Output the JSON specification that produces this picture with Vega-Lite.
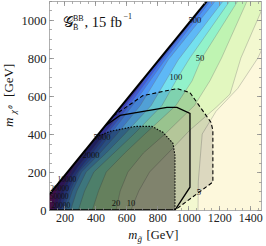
{
  "$schema": "https://vega.github.io/schema/vega-lite/v6.json",
  "width": 212,
  "height": 209,
  "autosize": {"type": "none"},
  "padding": {"left": 49, "top": 1, "right": 5, "bottom": 36},
  "background": "white",
  "config": {"view": {"stroke": null}},
  "resolve": {"axis": {"x": "independent", "y": "independent"}},
  "datasets": {
    "bg": [{"mg": 100, "top": 80}, {"mg": 1470, "top": 1450}],
    "contours": [
      {"L": 5, "mg": 100, "top": 80, "bot": 0, "pad": true},
      {"L": 5, "mg": 1063, "top": 1043, "bot": 0},
      {"L": 5, "mg": 1065, "top": 1045, "bot": 150},
      {"L": 5, "mg": 1080, "top": 1060, "bot": 300},
      {"L": 5, "mg": 1090, "top": 1070, "bot": 400},
      {"L": 5, "mg": 1180, "top": 1160, "bot": 520},
      {"L": 5, "mg": 1320, "top": 1300, "bot": 640},
      {"L": 5, "mg": 1450, "top": 1430, "bot": 800},
      {"L": 5, "mg": 1620, "top": 1600, "bot": 1100},
      {"L": 10, "mg": 100, "top": 80, "bot": 0, "pad": true},
      {"L": 10, "mg": 630, "top": 610, "bot": 0},
      {"L": 10, "mg": 680, "top": 660, "bot": 100},
      {"L": 10, "mg": 750, "top": 730, "bot": 200},
      {"L": 10, "mg": 870, "top": 850, "bot": 300},
      {"L": 10, "mg": 1010, "top": 990, "bot": 420},
      {"L": 10, "mg": 1180, "top": 1160, "bot": 540},
      {"L": 10, "mg": 1270, "top": 1250, "bot": 610},
      {"L": 10, "mg": 1340, "top": 1320, "bot": 800},
      {"L": 10, "mg": 1500, "top": 1480, "bot": 1100},
      {"L": 20, "mg": 100, "top": 80, "bot": 0, "pad": true},
      {"L": 20, "mg": 533, "top": 513, "bot": 0},
      {"L": 20, "mg": 560, "top": 540, "bot": 100},
      {"L": 20, "mg": 610, "top": 590, "bot": 200},
      {"L": 20, "mg": 710, "top": 690, "bot": 300},
      {"L": 20, "mg": 850, "top": 830, "bot": 400},
      {"L": 20, "mg": 1040, "top": 1020, "bot": 550},
      {"L": 20, "mg": 1140, "top": 1120, "bot": 680},
      {"L": 20, "mg": 1215, "top": 1195, "bot": 800},
      {"L": 20, "mg": 1380, "top": 1360, "bot": 1100},
      {"L": 50, "mg": 100, "top": 80, "bot": 0, "pad": true},
      {"L": 50, "mg": 380, "top": 360, "bot": 0},
      {"L": 50, "mg": 420, "top": 400, "bot": 100},
      {"L": 50, "mg": 470, "top": 450, "bot": 200},
      {"L": 50, "mg": 590, "top": 570, "bot": 300},
      {"L": 50, "mg": 720, "top": 700, "bot": 400},
      {"L": 50, "mg": 920, "top": 900, "bot": 550},
      {"L": 50, "mg": 1025, "top": 1005, "bot": 680},
      {"L": 50, "mg": 1085, "top": 1065, "bot": 796},
      {"L": 50, "mg": 1320, "top": 1300, "bot": 1100},
      {"L": 100, "mg": 100, "top": 80, "bot": 0, "pad": true},
      {"L": 100, "mg": 290, "top": 270, "bot": 0},
      {"L": 100, "mg": 330, "top": 310, "bot": 100},
      {"L": 100, "mg": 390, "top": 370, "bot": 200},
      {"L": 100, "mg": 520, "top": 500, "bot": 300},
      {"L": 100, "mg": 650, "top": 630, "bot": 400},
      {"L": 100, "mg": 830, "top": 810, "bot": 550},
      {"L": 100, "mg": 927, "top": 907, "bot": 690},
      {"L": 100, "mg": 1010, "top": 990, "bot": 800},
      {"L": 100, "mg": 1268, "top": 1248, "bot": 1100},
      {"L": 200, "mg": 100, "top": 80, "bot": 0, "pad": true},
      {"L": 200, "mg": 240, "top": 220, "bot": 0},
      {"L": 200, "mg": 280, "top": 260, "bot": 100},
      {"L": 200, "mg": 340, "top": 320, "bot": 200},
      {"L": 200, "mg": 470, "top": 450, "bot": 300},
      {"L": 200, "mg": 590, "top": 570, "bot": 400},
      {"L": 200, "mg": 760, "top": 740, "bot": 550},
      {"L": 200, "mg": 935, "top": 915, "bot": 790},
      {"L": 200, "mg": 1225, "top": 1205, "bot": 1100},
      {"L": 500, "mg": 100, "top": 80, "bot": 0, "pad": true},
      {"L": 500, "mg": 210, "top": 190, "bot": 0},
      {"L": 500, "mg": 250, "top": 230, "bot": 100},
      {"L": 500, "mg": 310, "top": 290, "bot": 200},
      {"L": 500, "mg": 430, "top": 410, "bot": 300},
      {"L": 500, "mg": 540, "top": 520, "bot": 400},
      {"L": 500, "mg": 690, "top": 670, "bot": 550},
      {"L": 500, "mg": 870, "top": 850, "bot": 790},
      {"L": 500, "mg": 1175, "top": 1155, "bot": 1100},
      {"L": 1000, "mg": 100, "top": 80, "bot": 0, "pad": true},
      {"L": 1000, "mg": 190, "top": 170, "bot": 0},
      {"L": 1000, "mg": 235, "top": 215, "bot": 100},
      {"L": 1000, "mg": 292, "top": 272, "bot": 200},
      {"L": 1000, "mg": 405, "top": 385, "bot": 300},
      {"L": 1000, "mg": 498, "top": 478, "bot": 400},
      {"L": 1000, "mg": 640, "top": 620, "bot": 550},
      {"L": 1000, "mg": 845, "top": 825, "bot": 785},
      {"L": 1000, "mg": 1142, "top": 1122, "bot": 1100},
      {"L": 2000, "mg": 100, "top": 80, "bot": 0, "pad": true},
      {"L": 2000, "mg": 175, "top": 155, "bot": 0},
      {"L": 2000, "mg": 220, "top": 200, "bot": 100},
      {"L": 2000, "mg": 275, "top": 255, "bot": 190},
      {"L": 2000, "mg": 330, "top": 310, "bot": 250},
      {"L": 2000, "mg": 371, "top": 351, "bot": 289},
      {"L": 2000, "mg": 470, "top": 450, "bot": 395},
      {"L": 2000, "mg": 600, "top": 580, "bot": 530},
      {"L": 2000, "mg": 830, "top": 810, "bot": 790},
      {"L": 2000, "mg": 1127, "top": 1107, "bot": 1100},
      {"L": 5000, "mg": 100, "top": 80, "bot": 0, "pad": true},
      {"L": 5000, "mg": 160, "top": 140, "bot": 0},
      {"L": 5000, "mg": 198, "top": 178, "bot": 100},
      {"L": 5000, "mg": 240, "top": 220, "bot": 170},
      {"L": 5000, "mg": 290, "top": 270, "bot": 230},
      {"L": 5000, "mg": 360, "top": 340, "bot": 300},
      {"L": 5000, "mg": 442, "top": 422, "bot": 384},
      {"L": 5000, "mg": 560, "top": 540, "bot": 510},
      {"L": 5000, "mg": 700, "top": 680, "bot": 665},
      {"L": 5000, "mg": 735, "top": 715, "bot": 715},
      {"L": 10000, "mg": 100, "top": 80, "bot": 0, "pad": true},
      {"L": 10000, "mg": 145, "top": 125, "bot": 0},
      {"L": 10000, "mg": 175, "top": 155, "bot": 100},
      {"L": 10000, "mg": 216, "top": 196, "bot": 158},
      {"L": 10000, "mg": 262, "top": 242, "bot": 225},
      {"L": 10000, "mg": 330, "top": 310, "bot": 300},
      {"L": 10000, "mg": 405, "top": 385, "bot": 380},
      {"L": 10000, "mg": 445, "top": 425, "bot": 425},
      {"L": 20000, "mg": 100, "top": 80, "bot": 0, "pad": true},
      {"L": 20000, "mg": 128, "top": 108, "bot": 0},
      {"L": 20000, "mg": 140, "top": 120, "bot": 70},
      {"L": 20000, "mg": 160, "top": 140, "bot": 140},
      {"L": 50000, "mg": 100, "top": 80, "bot": 0, "pad": true},
      {"L": 50000, "mg": 112, "top": 92, "bot": 0},
      {"L": 50000, "mg": 118, "top": 98, "bot": 60},
      {"L": 50000, "mg": 125, "top": 105, "bot": 105}
    ],
    "outer": [
      {"mg": 100, "top": 80, "bot": 0}, {"mg": 515, "top": 495, "bot": 0},
      {"mg": 707, "top": 602, "bot": 0}, {"mg": 914, "top": 637, "bot": 0},
      {"mg": 927, "top": 639, "bot": 8}, {"mg": 1011, "top": 618, "bot": 58},
      {"mg": 1147, "top": 461, "bot": 140}, {"mg": 1159, "top": 419, "bot": 147}
    ],
    "solidreg": [
      {"mg": 100, "top": 80, "bot": 0}, {"mg": 462, "top": 442, "bot": 0},
      {"mg": 559, "top": 498, "bot": 0}, {"mg": 862, "top": 540, "bot": 0},
      {"mg": 914, "top": 540, "bot": 0}, {"mg": 927, "top": 540, "bot": 16},
      {"mg": 1011, "top": 508, "bot": 120}
    ],
    "inner": [
      {"mg": 100, "top": 80, "bot": 0}, {"mg": 404, "top": 384, "bot": 0},
      {"mg": 494, "top": 414, "bot": 0}, {"mg": 656, "top": 440, "bot": 0},
      {"mg": 765, "top": 440, "bot": 0}, {"mg": 836, "top": 409, "bot": 0},
      {"mg": 901, "top": 351, "bot": 0}, {"mg": 914, "top": 288, "bot": 0}
    ],
    "outlines": [
      {"s": "dashed", "i": 1, "mg": 515, "mchi": 495},
      {"s": "dashed", "i": 2, "mg": 707, "mchi": 602},
      {"s": "dashed", "i": 3, "mg": 927, "mchi": 639},
      {"s": "dashed", "i": 4, "mg": 1011, "mchi": 618},
      {"s": "dashed", "i": 5, "mg": 1147, "mchi": 461},
      {"s": "dashed", "i": 6, "mg": 1159, "mchi": 419},
      {"s": "dashed", "i": 7, "mg": 1159, "mchi": 147},
      {"s": "dashed", "i": 8, "mg": 914, "mchi": 0},
      {"s": "solid", "i": 1, "mg": 462, "mchi": 442},
      {"s": "solid", "i": 2, "mg": 559, "mchi": 498},
      {"s": "solid", "i": 3, "mg": 862, "mchi": 540},
      {"s": "solid", "i": 4, "mg": 927, "mchi": 540},
      {"s": "solid", "i": 5, "mg": 1011, "mchi": 508},
      {"s": "solid", "i": 6, "mg": 1011, "mchi": 120},
      {"s": "solid", "i": 7, "mg": 914, "mchi": 0},
      {"s": "solid", "i": 8, "mg": 100, "mchi": 0},
      {"s": "dotted", "i": 1, "mg": 404, "mchi": 384},
      {"s": "dotted", "i": 2, "mg": 494, "mchi": 414},
      {"s": "dotted", "i": 3, "mg": 656, "mchi": 440},
      {"s": "dotted", "i": 4, "mg": 765, "mchi": 440},
      {"s": "dotted", "i": 5, "mg": 836, "mchi": 409},
      {"s": "dotted", "i": 6, "mg": 901, "mchi": 351},
      {"s": "dotted", "i": 7, "mg": 914, "mchi": 288},
      {"s": "dotted", "i": 8, "mg": 914, "mchi": 0}
    ],
    "diag": [{"mg": 100, "mchi": 80}, {"mg": 1120, "mchi": 1100}],
    "clabels": [
      {"t": "500", "mg": 1043, "mchi": 1000},
      {"t": "50", "mg": 1075, "mchi": 800},
      {"t": "100", "mg": 920, "mchi": 700},
      {"t": "5000", "mg": 442, "mchi": 384},
      {"t": "2000", "mg": 371, "mchi": 289},
      {"t": "20", "mg": 533, "mchi": 37},
      {"t": "10", "mg": 630, "mchi": 37},
      {"t": "5", "mg": 1069, "mchi": 95}
    ],
    "cornerlabels": [
      {"t": "10000", "mg": 216, "mchi": 160},
      {"t": "20000", "mg": 168, "mchi": 113},
      {"t": "50000", "mg": 165, "mchi": 68},
      {"t": "20000", "mg": 177, "mchi": 23}
    ]
  },
  "layer": [
    {
      "data": {"name": "bg"},
      "mark": {"type": "area", "clip": true, "fill": "#fdf8dc", "opacity": 1},
      "encoding": {
        "x": {"field": "mg", "type": "quantitative", "scale": {"domain": [100, 1470], "nice": false, "zero": false},
          "axis": {"orient": "bottom", "values": [200, 400, 600, 800, 1000, 1200, 1400], "format": "d", "tickSize": -4.5, "labelPadding": 7, "title": null, "grid": false, "zindex": 1, "tickColor": "#8a8a8a", "tickWidth": 0.8, "domainColor": "#9a9a9a", "domainWidth": 0.8, "labelFont": "Liberation Serif", "labelFontSize": 12, "labelColor": "#222", "labelFlush": false, "labelOverlap": false}},
        "y": {"field": "top", "type": "quantitative", "stack": null, "scale": {"domain": [0, 1100], "nice": false, "zero": false},
          "axis": {"orient": "left", "values": [0, 200, 400, 600, 800, 1000], "format": "d", "tickSize": -4.5, "labelPadding": 7.5, "title": null, "grid": false, "zindex": 1, "tickColor": "#8a8a8a", "tickWidth": 0.8, "domainColor": "#9a9a9a", "domainWidth": 0.8, "labelFont": "Liberation Serif", "labelFontSize": 12.5, "labelColor": "#222", "labelFlush": false, "labelOverlap": false}},
        "y2": {"datum": 0}
      }
    },
    {
      "data": {"name": "contours"},
      "mark": {"type": "area", "clip": true, "opacity": 1},
      "encoding": {
        "x": {"field": "mg", "type": "quantitative", "axis": null},
        "y": {"field": "top", "type": "quantitative", "stack": null, "axis": null},
        "y2": {"field": "bot"},
        "color": {"field": "L", "type": "ordinal", "legend": null,
          "scale": {"domain": [5, 10, 20, 50, 100, 200, 500, 1000, 2000, 5000, 10000, 20000, 50000],
            "range": ["#f3f8d0", "#e2f7bf", "#bff4b2", "#92f2ca", "#74e0ee", "#5eb8f6", "#4d96f4", "#4378ec", "#3e5ad8", "#3d3cb4", "#55289e", "#741a90", "#8e1880"]}}
      }
    },
    {
      "data": {"name": "contours"},
      "transform": [{"filter": "!datum.pad"}],
      "mark": {"type": "line", "clip": true, "stroke": "#707070", "strokeWidth": 0.6, "opacity": 0.55},
      "encoding": {
        "x": {"field": "mg", "type": "quantitative", "axis": null},
        "y": {"field": "bot", "type": "quantitative", "axis": null},
        "detail": {"field": "L"}
      }
    },
    {
      "data": {"name": "outer"},
      "mark": {"type": "area", "clip": true, "fill": "#000000", "fillOpacity": 0.13},
      "encoding": {
        "x": {"field": "mg", "type": "quantitative", "axis": null},
        "y": {"field": "top", "type": "quantitative", "stack": null, "axis": null},
        "y2": {"field": "bot"}
      }
    },
    {
      "data": {"name": "solidreg"},
      "mark": {"type": "area", "clip": true, "fill": "#000000", "fillOpacity": 0.08},
      "encoding": {
        "x": {"field": "mg", "type": "quantitative", "axis": null},
        "y": {"field": "top", "type": "quantitative", "stack": null, "axis": null},
        "y2": {"field": "bot"}
      }
    },
    {
      "data": {"name": "inner"},
      "mark": {"type": "area", "clip": true, "fill": "#000000", "fillOpacity": 0.34},
      "encoding": {
        "x": {"field": "mg", "type": "quantitative", "axis": null},
        "y": {"field": "top", "type": "quantitative", "stack": null, "axis": null},
        "y2": {"field": "bot"}
      }
    },
    {
      "data": {"name": "outlines"},
      "transform": [{"filter": "datum.s === 'dashed'"}],
      "mark": {"type": "line", "clip": true, "stroke": "#000", "strokeWidth": 1.1, "strokeDash": [4, 2.5]},
      "encoding": {
        "x": {"field": "mg", "type": "quantitative", "axis": null},
        "y": {"field": "mchi", "type": "quantitative", "axis": null},
        "order": {"field": "i"}
      }
    },
    {
      "data": {"name": "outlines"},
      "transform": [{"filter": "datum.s === 'solid'"}],
      "mark": {"type": "line", "clip": false, "stroke": "#000", "strokeWidth": 1.3},
      "encoding": {
        "x": {"field": "mg", "type": "quantitative", "axis": null},
        "y": {"field": "mchi", "type": "quantitative", "axis": null},
        "order": {"field": "i"}
      }
    },
    {
      "data": {"name": "outlines"},
      "transform": [{"filter": "datum.s === 'dotted'"}],
      "mark": {"type": "line", "clip": true, "stroke": "#000", "strokeWidth": 1.1, "strokeDash": [1.5, 1.5]},
      "encoding": {
        "x": {"field": "mg", "type": "quantitative", "axis": null},
        "y": {"field": "mchi", "type": "quantitative", "axis": null},
        "order": {"field": "i"}
      }
    },
    {
      "data": {"name": "diag"},
      "mark": {"type": "line", "clip": true, "stroke": "#000", "strokeWidth": 2},
      "encoding": {
        "x": {"field": "mg", "type": "quantitative", "axis": null},
        "y": {"field": "mchi", "type": "quantitative", "axis": null}
      }
    },
    {
      "data": {"name": "clabels"},
      "mark": {"type": "text", "font": "Liberation Serif", "fontSize": 8.5, "align": "center", "baseline": "middle", "color": "#111"},
      "encoding": {
        "x": {"field": "mg", "type": "quantitative", "axis": null},
        "y": {"field": "mchi", "type": "quantitative", "axis": null},
        "text": {"field": "t"}
      }
    },
    {
      "data": {"name": "cornerlabels"},
      "mark": {"type": "text", "font": "Liberation Serif", "fontSize": 7.5, "align": "center", "baseline": "middle", "color": "#111"},
      "encoding": {
        "x": {"field": "mg", "type": "quantitative", "axis": null},
        "y": {"field": "mchi", "type": "quantitative", "axis": null},
        "text": {"field": "t"}
      }
    },
    {
      "data": {"values": [{"t": "𝒢", "mg": 188, "mchi": 963}]},
      "mark": {"type": "text", "font": "Liberation Serif", "fontSize": 14.5, "align": "left", "baseline": "alphabetic", "color": "#111"},
      "encoding": {
        "x": {"field": "mg", "type": "quantitative", "axis": null},
        "y": {"field": "mchi", "type": "quantitative", "axis": null},
        "text": {"field": "t"}
      }
    },
    {
      "data": {"values": [{"t": ", 15 fb", "mg": 330, "mchi": 963}]},
      "mark": {"type": "text", "font": "Liberation Serif", "fontSize": 14.5, "align": "left", "baseline": "alphabetic", "color": "#111"},
      "encoding": {
        "x": {"field": "mg", "type": "quantitative", "axis": null},
        "y": {"field": "mchi", "type": "quantitative", "axis": null},
        "text": {"field": "t"}
      }
    },
    {
      "data": {"values": [{"t": "BB", "mg": 255, "mchi": 997}, {"t": "B̃", "mg": 255, "mchi": 945}, {"t": "−1", "mg": 582, "mchi": 1003}]},
      "mark": {"type": "text", "font": "Liberation Serif", "fontSize": 8, "align": "left", "baseline": "alphabetic", "color": "#111"},
      "encoding": {
        "x": {"field": "mg", "type": "quantitative", "axis": null},
        "y": {"field": "mchi", "type": "quantitative", "axis": null},
        "text": {"field": "t"}
      }
    },
    {
      "data": {"values": [{"t": "[GeV]", "mg": 730, "mchi": -150}]},
      "mark": {"type": "text", "font": "Liberation Serif", "fontSize": 12.5, "align": "left", "baseline": "alphabetic", "color": "#111"},
      "encoding": {
        "x": {"field": "mg", "type": "quantitative", "axis": null},
        "y": {"field": "mchi", "type": "quantitative", "axis": null},
        "text": {"field": "t"}
      }
    },
    {
      "data": {"values": [{"t": "m", "mg": 612, "mchi": -150}]},
      "mark": {"type": "text", "font": "Liberation Serif", "fontSize": 12.5, "fontStyle": "italic", "align": "left", "baseline": "alphabetic", "color": "#111"},
      "encoding": {
        "x": {"field": "mg", "type": "quantitative", "axis": null},
        "y": {"field": "mchi", "type": "quantitative", "axis": null},
        "text": {"field": "t"}
      }
    },
    {
      "data": {"values": [{"t": "g̃", "mg": 672, "mchi": -166}]},
      "mark": {"type": "text", "font": "Liberation Serif", "fontSize": 9, "fontStyle": "italic", "align": "left", "baseline": "alphabetic", "color": "#111"},
      "encoding": {
        "x": {"field": "mg", "type": "quantitative", "axis": null},
        "y": {"field": "mchi", "type": "quantitative", "axis": null},
        "text": {"field": "t"}
      }
    },
    {
      "data": {"values": [{"t": "[GeV]", "mg": -133, "mchi": 595}]},
      "mark": {"type": "text", "font": "Liberation Serif", "fontSize": 13, "angle": 270, "align": "left", "baseline": "alphabetic", "color": "#111"},
      "encoding": {
        "x": {"field": "mg", "type": "quantitative", "axis": null},
        "y": {"field": "mchi", "type": "quantitative", "axis": null},
        "text": {"field": "t"}
      }
    },
    {
      "data": {"values": [{"t": "m", "mg": -133, "mchi": 437}]},
      "mark": {"type": "text", "font": "Liberation Serif", "fontSize": 13, "fontStyle": "italic", "angle": 270, "align": "left", "baseline": "alphabetic", "color": "#111"},
      "encoding": {
        "x": {"field": "mg", "type": "quantitative", "axis": null},
        "y": {"field": "mchi", "type": "quantitative", "axis": null},
        "text": {"field": "t"}
      }
    },
    {
      "data": {"values": [{"t": "χ⁰", "mg": -114, "mchi": 505}]},
      "mark": {"type": "text", "font": "Liberation Serif", "fontSize": 9, "fontStyle": "italic", "angle": 270, "align": "left", "baseline": "alphabetic", "color": "#111"},
      "encoding": {
        "x": {"field": "mg", "type": "quantitative", "axis": null},
        "y": {"field": "mchi", "type": "quantitative", "axis": null},
        "text": {"field": "t"}
      }
    },
    {
      "data": {"name": "diag"},
      "mark": {"type": "line", "opacity": 0},
      "encoding": {
        "x": {"field": "mg", "type": "quantitative",
          "axis": {"orient": "bottom", "values": [100, 150, 200, 250, 300, 350, 400, 450, 500, 550, 600, 650, 700, 750, 800, 850, 900, 950, 1000, 1050, 1100, 1150, 1200, 1250, 1300, 1350, 1400, 1450], "tickSize": -2.5, "labels": false, "domain": false, "title": null, "grid": false, "zindex": 1, "tickColor": "#8a8a8a", "tickWidth": 0.7}},
        "y": {"field": "mchi", "type": "quantitative",
          "axis": {"orient": "left", "values": [0, 50, 100, 150, 200, 250, 300, 350, 400, 450, 500, 550, 600, 650, 700, 750, 800, 850, 900, 950, 1000, 1050, 1100], "tickSize": -2.5, "labels": false, "domain": false, "title": null, "grid": false, "zindex": 1, "tickColor": "#8a8a8a", "tickWidth": 0.7}}
      }
    },
    {
      "data": {"name": "diag"},
      "mark": {"type": "line", "opacity": 0},
      "encoding": {
        "x": {"field": "mg", "type": "quantitative",
          "axis": {"orient": "top", "values": [200, 400, 600, 800, 1000, 1200, 1400], "tickSize": -4.5, "labels": false, "title": null, "grid": false, "zindex": 1, "tickColor": "#8a8a8a", "tickWidth": 0.8, "domainColor": "#9a9a9a", "domainWidth": 0.8}},
        "y": {"field": "mchi", "type": "quantitative",
          "axis": {"orient": "right", "values": [0, 200, 400, 600, 800, 1000], "tickSize": -4.5, "labels": false, "title": null, "grid": false, "zindex": 1, "tickColor": "#8a8a8a", "tickWidth": 0.8, "domainColor": "#9a9a9a", "domainWidth": 0.8}}
      }
    },
    {
      "data": {"name": "diag"},
      "mark": {"type": "line", "opacity": 0},
      "encoding": {
        "x": {"field": "mg", "type": "quantitative",
          "axis": {"orient": "top", "values": [100, 150, 200, 250, 300, 350, 400, 450, 500, 550, 600, 650, 700, 750, 800, 850, 900, 950, 1000, 1050, 1100, 1150, 1200, 1250, 1300, 1350, 1400, 1450], "tickSize": -2.5, "labels": false, "domain": false, "title": null, "grid": false, "zindex": 1, "tickColor": "#8a8a8a", "tickWidth": 0.7}},
        "y": {"field": "mchi", "type": "quantitative",
          "axis": {"orient": "right", "values": [0, 50, 100, 150, 200, 250, 300, 350, 400, 450, 500, 550, 600, 650, 700, 750, 800, 850, 900, 950, 1000, 1050, 1100], "tickSize": -2.5, "labels": false, "domain": false, "title": null, "grid": false, "zindex": 1, "tickColor": "#8a8a8a", "tickWidth": 0.7}}
      }
    }
  ]
}
